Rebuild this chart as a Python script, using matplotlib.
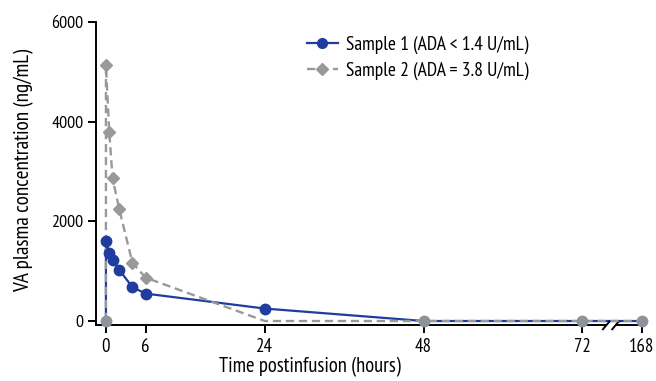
import matplotlib
matplotlib.use("Agg")
import matplotlib.pyplot as plt
from matplotlib.lines import Line2D
import logging
logging.getLogger('matplotlib.font_manager').setLevel(logging.ERROR)

plt.rcParams['font.family'] = ['PT Sans Narrow', 'Roboto Condensed', 'DejaVu Sans']

# Data
times = [0, 0, 0.5, 1, 2, 4, 6, 24, 48, 72, 168]
sample1 = [0, 1600, 1370, 1230, 1030, 680, 550, 250, 0, 0, 0]
sample2 = [0, 5130, 3800, 2870, 2250, 1170, 870, 0, 0, 0, 0]
xtick_vals = [0, 6, 24, 48, 72, 168]
ytick_vals = [0, 2000, 4000, 6000]
label1 = "Sample 1 (ADA < 1.4 U/mL)"
label2 = "Sample 2 (ADA = 3.8 U/mL)"

BREAK_FROM = 72
BREAK_POS = 81.0  # plotting position of 168 h


def tx(t):
    if t <= BREAK_FROM:
        return t
    return BREAK_FROM + (t - BREAK_FROM) * (BREAK_POS - BREAK_FROM) / (168 - BREAK_FROM)


blue = "#1f3c9e"
gray = "#999999"
zgray = "#8e9299"

fig = plt.figure(figsize=(6.56, 3.81), dpi=100)
ax = fig.add_axes([96/656, 56/381, 546/656, 303/381])

xs = [tx(t) for t in times]
ax.plot(xs, sample1, color=blue, lw=1.6, zorder=2, clip_on=False)
ax.plot(xs, sample2, color=gray, lw=1.7, ls=(0, (3.5, 2)), zorder=3, clip_on=False)
nz1 = [(x, v) for x, v in zip(xs, sample1) if v > 0]
nz2 = [(x, v) for x, v in zip(xs, sample2) if v > 0]
ax.plot([p[0] for p in nz1], [p[1] for p in nz1], ls='none', marker='o', ms=7.5,
        color=blue, zorder=4, clip_on=False)
ax.plot([p[0] for p in nz2], [p[1] for p in nz2], ls='none', marker='D', ms=6.3,
        color=gray, zorder=4, clip_on=False)
z = [(x, v) for x, v in zip(xs, sample1) if v == 0]
ax.plot([p[0] for p in z], [p[1] for p in z], ls='none', marker='o', ms=7.5,
        color=zgray, zorder=5, clip_on=False)

ax.set_xlim(-1.5, BREAK_POS)
ax.set_ylim(-80, 6000)
ax.set_xticks([tx(t) for t in xtick_vals])
ax.set_xticklabels([str(t) for t in xtick_vals])
ax.set_yticks(ytick_vals)
ax.tick_params(axis='x', labelsize=13.5, length=6, width=1.4, direction='out', pad=3)
ax.tick_params(axis='y', labelsize=13, length=6, width=1.4, direction='out', pad=3)

for s in ['top', 'right', 'bottom']:
    ax.spines[s].set_visible(False)
ax.spines['left'].set_linewidth(1.4)

# broken bottom axis
trans = ax.get_xaxis_transform()
gap_l, gap_r = 75.6, 77.0
ax.plot([-1.5, gap_l], [0, 0], color='black', lw=1.4, transform=trans, clip_on=False)
ax.plot([gap_r, BREAK_POS], [0, 0], color='black', lw=1.4, transform=trans, clip_on=False)
for g in (gap_l, gap_r):
    ax.plot([g - 0.5, g + 0.5], [-0.014, 0.012], color='black', lw=1.4,
            transform=trans, clip_on=False)

ax.set_xlabel("Time postinfusion (hours)", fontsize=14.8)
ax.xaxis.set_label_coords(0.392, -0.105)
ax.set_ylabel("VA plasma concentration (ng/mL)", fontsize=15.3)
ax.yaxis.set_label_coords(-0.113, 0.51)

handles = [
    Line2D([], [], color=blue, lw=1.6, marker='o', ms=7),
    Line2D([], [], color=gray, lw=1.7, ls=(0, (3.5, 2)), marker='D', ms=5.8),
]
ax.legend(handles, [label1, label2], loc='upper left', bbox_to_anchor=(0.372, 0.98),
          frameon=False, fontsize=14, handlelength=1.6, labelspacing=0.4,
          handletextpad=0.4, borderaxespad=0)

fig.savefig("out.png", dpi=100)
